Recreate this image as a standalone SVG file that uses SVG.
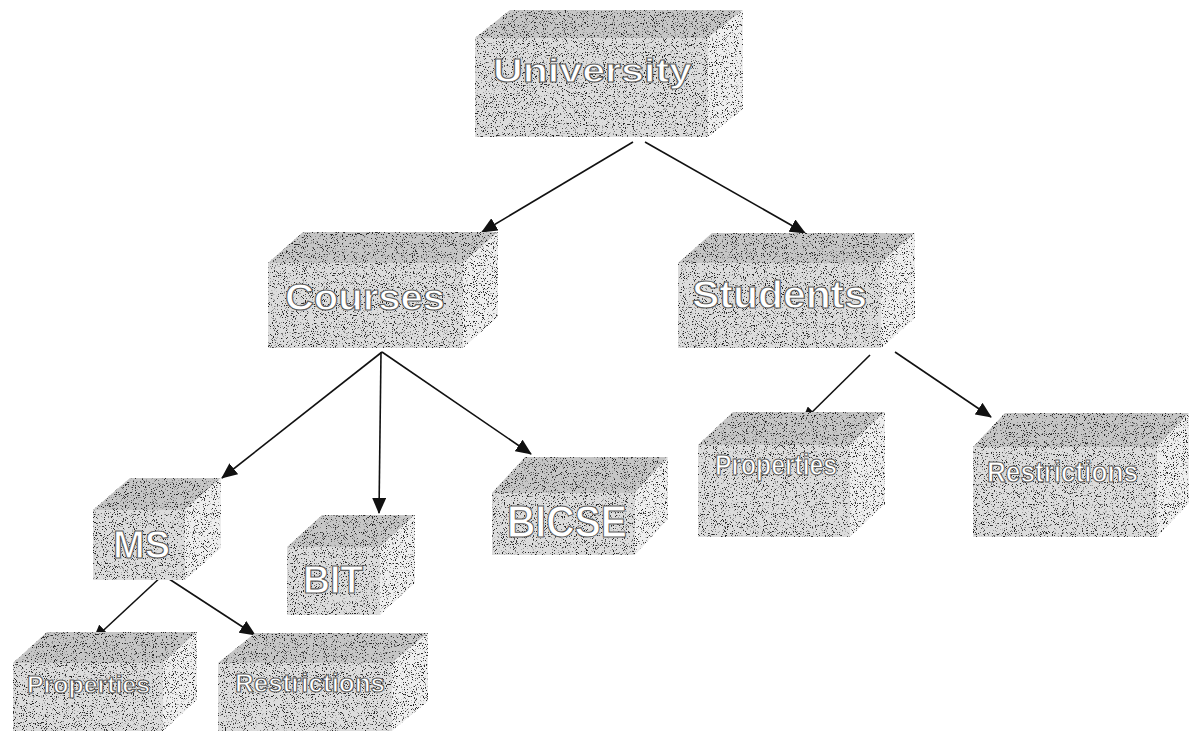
<svg xmlns="http://www.w3.org/2000/svg" width="1191" height="732" viewBox="0 0 1191 732">
  <style>
    .top { fill: #c6c6c6; }
    .front { fill: #dcdcdc; }
    .side { fill: #eeeeee; }
    .label { font-family: "Liberation Sans", Arial, sans-serif; font-weight: bold; fill: #ffffff; stroke: #5e5e5e; stroke-width: 1.1; text-anchor: start; }
    .edge { fill: none; stroke: #111111; stroke-width: 1.6; marker-end: url(#head); }
  </style>
  <defs>
    <!-- stippled texture for the box bodies -->
    <filter id="grain" x="0" y="0" width="1" height="1" color-interpolation-filters="sRGB">
      <feTurbulence type="fractalNoise" baseFrequency="0.9" numOctaves="2" seed="7" result="noise"/>
      <feColorMatrix in="noise" type="matrix" values="0 0 0 0 0.15  0 0 0 0 0.15  0 0 0 0 0.15  10 0 0 0 -5.9" result="dots"/>
      <feComposite in="dots" in2="SourceGraphic" operator="in" result="clipped"/>
      <feMerge><feMergeNode in="SourceGraphic"/><feMergeNode in="clipped"/></feMerge>
    </filter>
    <marker id="head" markerUnits="userSpaceOnUse" markerWidth="16" markerHeight="14" refX="15" refY="7" orient="auto">
      <path d="M0,0 L16,7 L0,14 Z" fill="#111111"/>
    </marker>
  </defs>
  <rect width="1191" height="732" fill="#ffffff"/>

  <g id="connectors">
    <path class="edge" d="M633,142 L482,232"/>
    <path class="edge" d="M645,142 L805,233"/>
    <path class="edge" d="M382,352 L222,478"/>
    <path class="edge" d="M381,352 L379,513"/>
    <path class="edge" d="M382,352 L531,454"/>
    <path class="edge" d="M870,355 L802,422"/>
    <path class="edge" d="M895,352 L991,417"/>
    <path class="edge" d="M163,575 L93,640"/>
    <path class="edge" d="M163,575 L255,635"/>
  </g>

  <g id="node-university">
    <g filter="url(#grain)">
      <polygon class="top" points="475,38 510,10 743,10 708,38"/>
      <polygon class="side" points="708,38 743,10 743,109 708,137"/>
      <rect class="front" x="475" y="38" width="233" height="99"/>
    </g>
    <text class="label" x="493" y="82" font-size="34" textLength="199" lengthAdjust="spacingAndGlyphs">University</text>
  </g>

  <g id="node-courses">
    <g filter="url(#grain)">
      <polygon class="top" points="268,263 303,232 498,232 463,263"/>
      <polygon class="side" points="463,263 498,232 498,317 463,348"/>
      <rect class="front" x="268" y="263" width="195" height="85"/>
    </g>
    <text class="label" x="285" y="310" font-size="37" textLength="160" lengthAdjust="spacingAndGlyphs">Courses</text>
  </g>

  <g id="node-students">
    <g filter="url(#grain)">
      <polygon class="top" points="678,263 712,233 915,233 881,263"/>
      <polygon class="side" points="881,263 915,233 915,318 881,348"/>
      <rect class="front" x="678" y="263" width="203" height="85"/>
    </g>
    <text class="label" x="692" y="308" font-size="38" textLength="175" lengthAdjust="spacingAndGlyphs">Students</text>
  </g>

  <g id="node-ms">
    <g filter="url(#grain)">
      <polygon class="top" points="93,510 130,478 221,478 185,510"/>
      <polygon class="side" points="185,510 221,478 221,548 185,580"/>
      <rect class="front" x="93" y="510" width="92" height="70"/>
    </g>
    <text class="label" x="113" y="558" font-size="38" textLength="57" lengthAdjust="spacingAndGlyphs">MS</text>
  </g>

  <g id="node-bit">
    <g filter="url(#grain)">
      <polygon class="top" points="287,547 322,515 415,515 380,547"/>
      <polygon class="side" points="380,547 415,515 415,583 380,615"/>
      <rect class="front" x="287" y="547" width="93" height="68"/>
    </g>
    <text class="label" x="303" y="593" font-size="38" textLength="60" lengthAdjust="spacingAndGlyphs">BIT</text>
  </g>

  <g id="node-bicse">
    <g filter="url(#grain)">
      <polygon class="top" points="492,493 525,457 668,457 635,493"/>
      <polygon class="side" points="635,493 668,457 668,519 635,555"/>
      <rect class="front" x="492" y="493" width="143" height="62"/>
    </g>
    <text class="label" x="507" y="537" font-size="44" textLength="120" lengthAdjust="spacingAndGlyphs">BICSE</text>
  </g>

  <g id="node-students-properties">
    <g filter="url(#grain)">
      <polygon class="top" points="698,445 733,412 885,412 850,445"/>
      <polygon class="side" points="850,445 885,412 885,504 850,537"/>
      <rect class="front" x="698" y="445" width="152" height="92"/>
    </g>
    <text class="label" x="715" y="475" font-size="29" textLength="122" lengthAdjust="spacingAndGlyphs">Properties</text>
  </g>

  <g id="node-students-restrictions">
    <g filter="url(#grain)">
      <polygon class="top" points="973,447 1005,413 1189,413 1157,447"/>
      <polygon class="side" points="1157,447 1189,413 1189,503 1157,537"/>
      <rect class="front" x="973" y="447" width="184" height="90"/>
    </g>
    <text class="label" x="987" y="482" font-size="29" textLength="151" lengthAdjust="spacingAndGlyphs">Restrictions</text>
  </g>

  <g id="node-ms-properties">
    <g filter="url(#grain)">
      <polygon class="top" points="13,663 47,632 197,632 163,663"/>
      <polygon class="side" points="163,663 197,632 197,700 163,731"/>
      <rect class="front" x="13" y="663" width="150" height="68"/>
    </g>
    <text class="label" x="27" y="693" font-size="24" textLength="123" lengthAdjust="spacingAndGlyphs">Properties</text>
  </g>

  <g id="node-ms-restrictions">
    <g filter="url(#grain)">
      <polygon class="top" points="218,663 255,633 428,633 392,663"/>
      <polygon class="side" points="392,663 428,633 428,701 392,731"/>
      <rect class="front" x="218" y="663" width="174" height="68"/>
    </g>
    <text class="label" x="235" y="692" font-size="25" textLength="150" lengthAdjust="spacingAndGlyphs">Restrictions</text>
  </g>
</svg>
